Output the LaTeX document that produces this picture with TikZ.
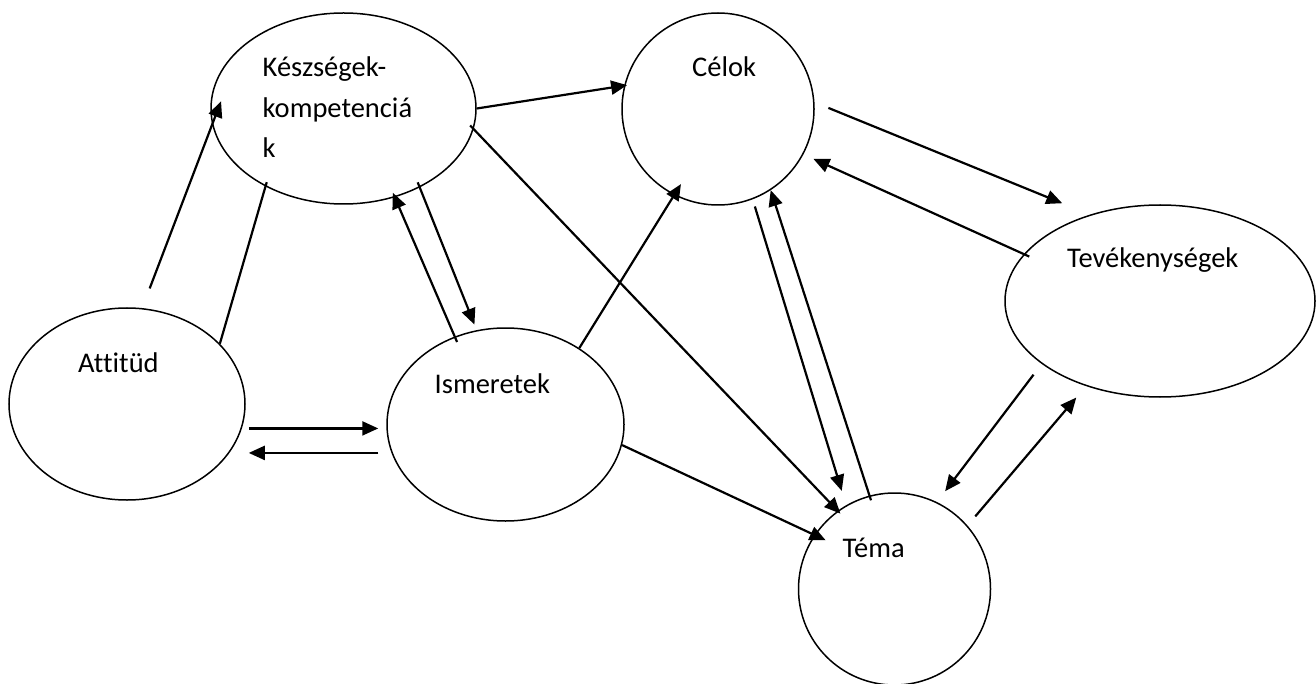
\documentclass[tikz,border=0pt]{standalone}
\usepackage{fontspec}
\setmainfont{Carlito}[Ligatures=CommonOff]
\usetikzlibrary{shapes.geometric, arrows.meta, positioning, calc}

\begin{document}
\begin{tikzpicture}[
        x=1pt, y=-1pt,
        every node/.style={font=\fontsize{28.5}{40.5}\selectfont},
        oval/.style={ellipse, draw, line width=1.5pt, inner sep=0pt},
        lbl/.style={anchor=base west, inner sep=0pt, align=left},
        arr/.style={-{Triangle[length=16pt, width=14pt]}, line width=2.2pt},
        ln/.style={line width=2.2pt}
    ]
        \useasboundingbox (0,0) rectangle (1316,684);

        \node[oval, minimum width=265pt, minimum height=191pt] (kesz) at (343.5,108.5) {};
        \node[oval, minimum width=192pt, minimum height=192pt] (celok) at (718,109) {};
        \node[oval, minimum width=310pt, minimum height=192pt] (teve) at (1160,301) {};
        \node[oval, minimum width=236pt, minimum height=192pt] (atti) at (127,404) {};
        \node[oval, minimum width=237pt, minimum height=193pt] (isme) at (505.5,424.5) {};
        \node[oval, minimum width=192pt, minimum height=192pt] (tema) at (894.5,589) {};

        \node[lbl] (kesz-t) at ([shift={(-81,49.5)}]kesz.center) {Készségek-\\kompetenciá\\k};
        \node[lbl] (celok-t) at ([shift={(-26,-32)}]celok.center) {Célok};
        \node[lbl] (teve-t) at ([shift={(-93,-33)}]teve.center) {Tevékenységek};
        \node[lbl] (atti-t) at ([shift={(-49,-32)}]atti.center) {Attitüd};
        \node[lbl] (isme-t) at ([shift={(-71,-31.5)}]isme.center) {Ismeretek};
        \node[lbl] (tema-t) at ([shift={(-52,-32)}]tema.center) {Téma};

        \draw[arr, shorten <=21pt, shorten >=-25pt] (atti.81) -- (kesz.187);
        \draw[ln, shorten >=-4.5pt] (atti.33) -- (kesz.225);
        \draw[arr, shorten >=-3pt] (kesz.east) -- (celok.166);
        \draw[arr, shorten <=-5pt, shorten >=-4pt] (kesz.351) -- (tema.126);
        \draw[arr, shorten <=-6pt, shorten >=-5pt] (isme.120) -- (kesz.300);
        \draw[arr, shorten <=-5.5pt, shorten >=6pt] (kesz.314) -- (isme.107);
        \draw[arr, shorten <=7pt, shorten >=8pt] (atti.348) -- (atti.348 -| isme.west);
        \draw[arr, shorten <=13pt, shorten >=3pt] (isme.194) -- (isme.194 -| atti.east);
        \draw[arr, shorten >=-13pt] (isme.46) -- (celok.243);
        \draw[arr, shorten >=-12.5pt] (isme.350) -- (tema.146);
        \draw[arr, shorten <=15pt, shorten >=30pt] (celok.4) -- (teve.129);
        \draw[arr, shorten <=-6pt, shorten >=11pt] (teve.161) -- (celok.332);
        \draw[arr, shorten <=7.5pt, shorten >=15pt] (celok.291) -- (tema.120);
        \draw[arr, shorten <=-5pt] (tema.105) -- (celok.303);
        \draw[arr, shorten <=13.5pt, shorten >=13.6pt] (teve.208) -- (tema.64);
        \draw[arr, shorten <=12pt, shorten >=15pt] (tema.41) -- (teve.229);
    \end{tikzpicture}
\end{document}
